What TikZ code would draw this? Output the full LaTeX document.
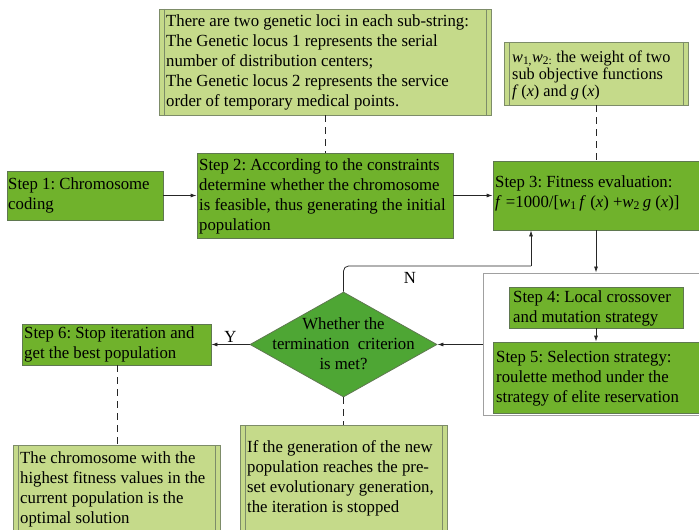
\documentclass[tikz,border=0pt]{standalone}
\usepackage{fontspec}
\setmainfont[FakeStretch=0.985]{Liberation Serif}
\usetikzlibrary{shapes.geometric,arrows.meta}
\definecolor{stepg}{RGB}{112,178,44}
\definecolor{stepline}{RGB}{95,120,80}
\definecolor{diag}{RGB}{78,166,52}
\definecolor{annfill}{RGB}{197,218,138}
\definecolor{annline}{RGB}{125,140,105}
\definecolor{contline}{RGB}{160,160,160}
\newcommand\myfs{\fontsize{17bp}{20bp}\selectfont}
\newcommand\myfsw{\fontsize{16.5bp}{17bp}\selectfont}
\begin{document}
\frenchspacing
\begin{tikzpicture}[x=1bp,y=-1bp,
  stepbox/.style={draw=stepline, fill=stepg, line width=0.8bp, inner sep=0pt},
  annot/.style={draw=annline, fill=annfill, line width=0.8bp, inner sep=0pt,
    path picture={\draw[annline, line width=0.8bp] ([xshift=5bp]path picture bounding box.north west) -- ([xshift=5bp]path picture bounding box.south west);
      \draw[annline, line width=0.8bp] ([xshift=-5bp]path picture bounding box.north east) -- ([xshift=-5bp]path picture bounding box.south east);}},
  txt/.style={align=left, font=\myfs, inner sep=0pt, anchor=west},
  arr/.style={draw=black!85, line width=0.8bp, -{Latex[length=6bp,width=4bp]}},
  conn/.style={draw=black!85, line width=0.8bp},
  dashline/.style={draw=black!85, line width=0.9bp, dash pattern=on 7bp off 5bp},
]
\useasboundingbox (0,0) rectangle (699,530);
\clip (0,0) rectangle (699,530);

% annotations top
\node[annot, minimum width=332bp, minimum height=106bp] (a1) at (325,62) {};
\node[txt] (a1t) at (166,62)
  {There are two genetic loci in each sub-string:\\The Genetic locus 1 represents the serial\\number of distribution centers;\\The Genetic locus 2 represents the service\\order of temporary medical points.};
\node[annot, minimum width=184bp, minimum height=63bp] (a2) at (596,73.5) {};
\node[txt, font=\myfsw] (a2t) at (512,75)
  {\textit{w}\textsubscript{1,}\textit{w}\textsubscript{2:} the weight of two\\sub objective functions\\\textit{f}\,(\textit{x}) and \textit{g}\,(\textit{x})};

% steps
\node[stepbox, minimum width=156bp, minimum height=49bp] (s1) at (85,195.5) {};
\node[txt] (s1t) at (8,195) {Step 1: Chromosome\\coding};
\node[stepbox, minimum width=256bp, minimum height=85bp] (s2) at (325,195.5) {};
\node[txt] (s2t) at (199,196)
  {Step 2: According to the constraints\\determine whether the chromosome\\is feasible, thus generating the initial\\population};
\node[stepbox, minimum width=206bp, minimum height=69bp] (s3) at (596,195.5) {};
\node[txt] (s3t) at (495,193)
  {Step 3: Fitness evaluation:\\\textit{f} =1000/[\textit{w}\textsubscript{1}\,\textit{f} (\textit{x}) +\textit{w}\textsubscript{2}\,\textit{g} (\textit{x})]};

% container
\node[draw=contline, line width=0.9bp, minimum width=227bp, minimum height=142bp, inner sep=0pt] (cont) at (596.5,344) {};
\node[stepbox, minimum width=174bp, minimum height=41bp] (s4) at (596,307.5) {};
\node[txt] (s4t) at (513,308) {Step 4: Local crossover\\and mutation strategy};
\node[stepbox, minimum width=206bp, minimum height=71bp] (s5) at (596,377.5) {};
\node[txt] (s5t) at (496,378)
  {Step 5: Selection strategy:\\roulette method under the\\strategy of elite reservation};

% diamond
\node[diamond, draw=stepline, fill=diag, line width=0.8bp, aspect=1.78, minimum width=187bp, minimum height=105bp, inner sep=0pt] (dia) at (343.5,344.5) {};
\node[txt, align=center, anchor=center] (diat) at (343.5,343.5) {Whether the\\termination\ \ criterion\\is met?};

% step 6
\node[stepbox, minimum width=189bp, minimum height=41bp] (s6) at (116.5,344.5) {};
\node[txt] (s6t) at (24,344) {Step 6: Stop iteration and\\get the best population};

% bottom annotations
\node[annot, minimum width=207bp, minimum height=100bp] (b1) at (116.5,495) {};
\node[txt] (b1t) at (20,489)
  {The chromosome with the\\highest fitness values in the\\current population is the\\optimal solution};
\node[annot, minimum width=207bp, minimum height=120bp] (b2) at (343.5,485) {};
\node[txt] (b2t) at (247,478)
  {If the generation of the new\\population reaches the pre-\\set evolutionary generation,\\the iteration is stopped};

% connectors
\draw[arr] (s1.east) -- (s2.west |- s1.east);
\draw[arr] (s2.east) -- (s3.west |- s2.east);
\draw[arr] (s3.south) -- (cont.north -| s3.south);
\draw[arr] (s4.south) -- (s5.north);
\draw[arr] (cont.west |- dia.east) -- (dia.east);
\draw[arr] (dia.west) -- (s6.east |- dia.west) node[midway, above=-2bp, font=\myfs] (ylab) {Y};
\coordinate (nc) at (531,266);
\draw[conn] (dia.north) [rounded corners=5bp] |- (nc);
\draw[arr] (nc) -- (s3.south -| nc);
\node[font=\myfs, inner sep=0pt] (nlab) at (410,278) {N};

\draw[dashline] (a1.south) -- (s2.north -| a1.south);
\draw[dashline] (a2.south -| s3.north) -- (s3.north);
\draw[dashline] (s6.south -| 117,0) -- (b1.north -| 117,0);
\draw[dashline] (dia.south) -- (b2.north);
\end{tikzpicture}
\end{document}
